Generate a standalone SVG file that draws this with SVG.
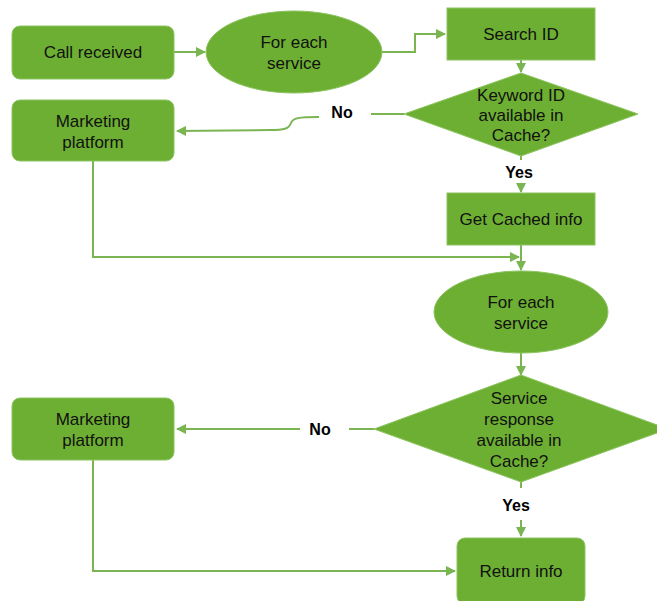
<svg xmlns="http://www.w3.org/2000/svg" width="657" height="601" viewBox="0 0 657 601">
<style>
.n{fill:#6DAF32;stroke:#8cc460;stroke-width:1}
.t{font-family:"Liberation Sans",Arial,sans-serif;font-size:17px;fill:#111;text-anchor:middle}
.l{font-family:"Liberation Sans",Arial,sans-serif;font-size:16px;font-weight:bold;fill:#000;text-anchor:middle}
.c{fill:none;stroke:#7ab552;stroke-width:2}
</style>
<defs>
<marker id="a" viewBox="0 0 10 10" refX="9" refY="5" markerWidth="5" markerHeight="5" orient="auto" markerUnits="strokeWidth">
<path d="M0,0 L10,5 L0,10 z" fill="#7ab552"/>
</marker>
</defs>
<rect width="657" height="601" fill="#fff"/>
<g id="connectors">
<path class="c" d="M174,52 L205,52" marker-end="url(#a)"/>
<path class="c" d="M382,52 L415,52 L415,34 L445,34" marker-end="url(#a)"/>
<path class="c" d="M521,60 L521,72" marker-end="url(#a)"/>
<path class="c" d="M404,114 L371,114"/>
<path class="c" d="M319,117 C298,117 293,118 291,123 C289,129 284,130 270,130 L177,131" marker-end="url(#a)"/>
<path class="c" d="M521,156 L521,160"/>
<path class="c" d="M521,185 L521,192" marker-end="url(#a)"/>
<path class="c" d="M521,245 L521,270" marker-end="url(#a)"/>
<path class="c" d="M93,161 L93,257 L519,257" marker-end="url(#a)"/>
<path class="c" d="M521,353 L521,375" marker-end="url(#a)"/>
<path class="c" d="M374,429 L349,429"/>
<path class="c" d="M300,429 L177,429" marker-end="url(#a)"/>
<path class="c" d="M521,482 L521,488"/>
<path class="c" d="M521,520 L521,536" marker-end="url(#a)"/>
<path class="c" d="M93,460 L93,571 L455,571" marker-end="url(#a)"/>
</g>
<g id="call-received">
<rect class="n" x="12" y="26" width="162" height="53" rx="8"/>
<text class="t" x="93" y="58">Call received</text>
</g>
<g id="for-each-1">
<ellipse class="n" cx="294" cy="52" rx="88" ry="41"/>
<text class="t" x="294" y="48">For each</text>
<text class="t" x="294" y="69">service</text>
</g>
<g id="search-id">
<rect class="n" x="447" y="8" width="148" height="52"/>
<text class="t" x="521" y="40">Search ID</text>
</g>
<g id="keyword-decision">
<polygon class="n" points="521,73 638,114 521,156 404,114"/>
<text class="t" x="521" y="101">Keyword ID</text>
<text class="t" x="521" y="121">available in</text>
<text class="t" x="521" y="141">Cache?</text>
</g>
<g id="marketing-1">
<rect class="n" x="12" y="100" width="162" height="61" rx="8"/>
<text class="t" x="93" y="127">Marketing</text>
<text class="t" x="93" y="148">platform</text>
</g>
<g id="label-no-1"><text class="l" x="342" y="118">No</text></g>
<g id="label-yes-1"><text class="l" x="519" y="178">Yes</text></g>
<g id="get-cached">
<rect class="n" x="447" y="193" width="148" height="52"/>
<text class="t" x="521" y="225">Get Cached info</text>
</g>
<g id="for-each-2">
<ellipse class="n" cx="521" cy="312" rx="87" ry="41"/>
<text class="t" x="521" y="308">For each</text>
<text class="t" x="521" y="329">service</text>
</g>
<g id="service-decision">
<polygon class="n" points="521,375 668,429 521,482 374,429"/>
<text class="t" x="519" y="404">Service</text>
<text class="t" x="519" y="425">response</text>
<text class="t" x="519" y="446">available in</text>
<text class="t" x="519" y="467">Cache?</text>
</g>
<g id="marketing-2">
<rect class="n" x="12" y="398" width="162" height="62" rx="8"/>
<text class="t" x="93" y="425">Marketing</text>
<text class="t" x="93" y="446">platform</text>
</g>
<g id="label-no-2"><text class="l" x="320" y="435">No</text></g>
<g id="label-yes-2"><text class="l" x="516" y="511">Yes</text></g>
<g id="return-info">
<rect class="n" x="457" y="538" width="128" height="66" rx="8"/>
<text class="t" x="521" y="577">Return info</text>
</g>
</svg>
